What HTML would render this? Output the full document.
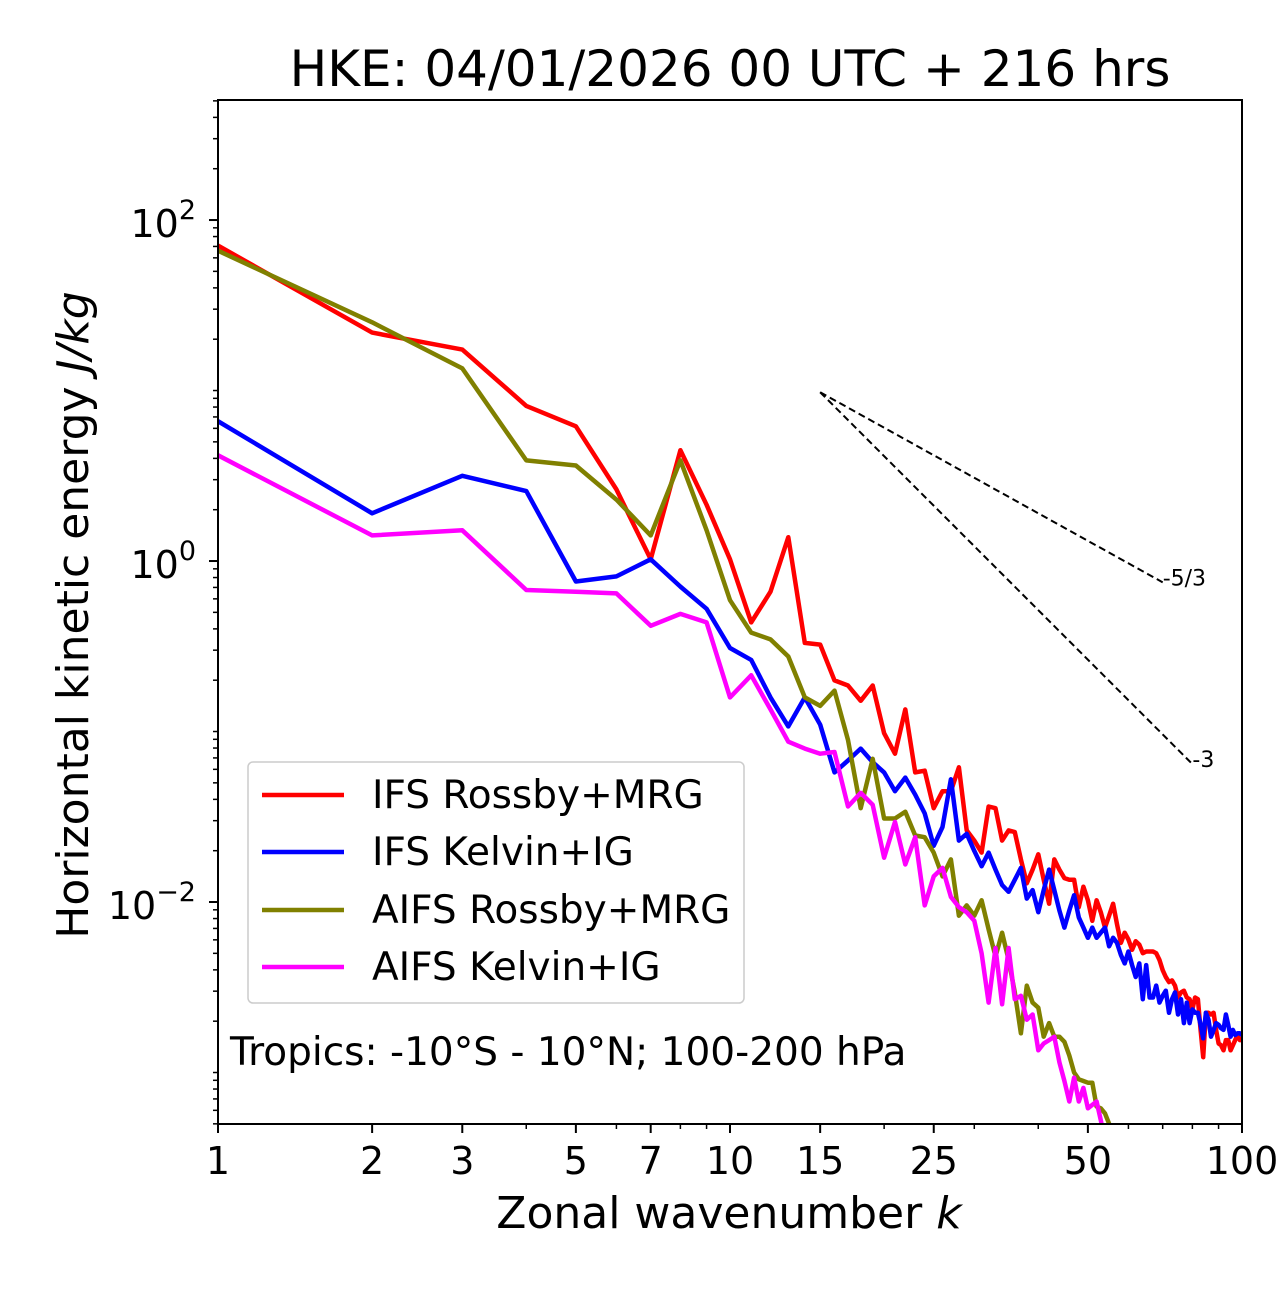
<!DOCTYPE html>
<html><head><meta charset="utf-8"><style>
html,body{margin:0;padding:0;background:#fff;}
svg text{font-family:"DejaVu Sans","Liberation Sans",sans-serif;fill:#000;}
</style></head><body>
<svg id="chart" width="1280" height="1288" viewBox="0 0 1280 1288" xmlns="http://www.w3.org/2000/svg">
<rect width="1280" height="1288" fill="#fff"/>
<text x="730" y="86" font-size="50" text-anchor="middle">HKE: 04/01/2026 00 UTC + 216 hrs</text>
<defs><clipPath id="plotclip"><rect x="218" y="100" width="1024" height="1024"/></clipPath></defs>
<g id="series" clip-path="url(#plotclip)"></g>
<g id="refs"></g>
<g id="axes"></g>
<rect x="218" y="100" width="1024" height="1024" fill="none" stroke="#000" stroke-width="2"/>
<text x="729" y="1228" font-size="44" text-anchor="middle">Zonal wavenumber <tspan font-style="italic">k</tspan></text>
<text transform="translate(88,615) rotate(-90)" font-size="44" text-anchor="middle">Horizontal kinetic energy <tspan font-style="italic">J/kg</tspan></text>
<g>
<rect x="248" y="762" width="496" height="241" rx="5" fill="#fff" fill-opacity="0.8" stroke="#ccc" stroke-width="1.5"/>
<g><line x1="262" y1="795" x2="344" y2="795" stroke="#ff0000" stroke-width="4.5"/><text x="372" y="808" font-size="39">IFS Rossby+MRG</text></g>
<g><line x1="262" y1="852" x2="344" y2="852" stroke="#0000ff" stroke-width="4.5"/><text x="372" y="865" font-size="39">IFS Kelvin+IG</text></g>
<g><line x1="262" y1="910" x2="344" y2="910" stroke="#808000" stroke-width="4.5"/><text x="372" y="923" font-size="39">AIFS Rossby+MRG</text></g>
<g><line x1="262" y1="967" x2="344" y2="967" stroke="#ff00ff" stroke-width="4.5"/><text x="372" y="980" font-size="39">AIFS Kelvin+IG</text></g>
</g>
<text x="230" y="1065" font-size="39">Tropics: -10°S - 10°N; 100-200 hPa</text>
</svg>
<script>
// log10 of HKE (J/kg) for k = 1..N
const ifsRossbyLogE = [1.85,1.34,1.24,0.91,0.79,0.42,0.01,0.65,0.33,0.01,-0.36,-0.18,0.14,-0.48,-0.49,-0.70,-0.73,-0.82,-0.73,-1.01,-1.13,-0.87,-1.24,-1.23,-1.45,-1.35,-1.35,-1.21,-1.58,-1.64,-1.71,-1.44,-1.45,-1.64,-1.58,-1.59,-1.75,-1.89,-1.81,-1.72,-1.87,-2.01,-1.75,-1.81,-1.86,-1.87,-1.87,-2.03,-1.91,-1.99,-2.11,-1.99,-2.06,-2.15,-2.08,-2.01,-2.13,-2.24,-2.18,-2.22,-2.28,-2.23,-2.25,-2.30,-2.29,-2.29,-2.29,-2.30,-2.34,-2.40,-2.44,-2.47,-2.46,-2.49,-2.56,-2.53,-2.52,-2.56,-2.57,-2.63,-2.56,-2.57,-2.75,-2.91,-2.65,-2.65,-2.66,-2.65,-2.75,-2.83,-2.84,-2.87,-2.81,-2.81,-2.87,-2.84,-2.81,-2.78,-2.81,-2.81];
const ifsKelvinLogE = [0.82,0.28,0.50,0.41,-0.12,-0.09,0.01,-0.15,-0.28,-0.51,-0.58,-0.80,-0.97,-0.80,-0.96,-1.24,-1.17,-1.10,-1.18,-1.24,-1.35,-1.27,-1.37,-1.48,-1.67,-1.56,-1.28,-1.64,-1.60,-1.70,-1.79,-1.71,-1.81,-1.90,-1.94,-1.87,-1.80,-1.98,-1.93,-2.06,-1.93,-1.81,-1.93,-2.05,-2.15,-2.05,-1.96,-2.09,-2.15,-2.21,-2.15,-2.21,-2.18,-2.15,-2.26,-2.21,-2.24,-2.31,-2.36,-2.29,-2.37,-2.44,-2.36,-2.57,-2.37,-2.56,-2.56,-2.49,-2.59,-2.55,-2.52,-2.65,-2.57,-2.53,-2.66,-2.57,-2.71,-2.59,-2.71,-2.63,-2.65,-2.65,-2.72,-2.80,-2.65,-2.69,-2.79,-2.75,-2.71,-2.72,-2.74,-2.75,-2.66,-2.72,-2.79,-2.75,-2.78,-2.77,-2.77,-2.78];
const aifsRossbyLogE = [1.82,1.40,1.13,0.59,0.56,0.36,0.15,0.59,0.18,-0.23,-0.42,-0.46,-0.56,-0.80,-0.85,-0.76,-1.05,-1.45,-1.16,-1.51,-1.51,-1.47,-1.61,-1.62,-1.71,-1.85,-1.75,-2.08,-2.02,-2.08,-1.99,-2.16,-2.32,-2.18,-2.34,-2.53,-2.77,-2.49,-2.59,-2.62,-2.79,-2.71,-2.79,-2.79,-2.82,-2.90,-3.00,-3.04,-3.05,-3.06,-3.06,-3.20,-3.21,-3.24,-3.30,-3.40];
const aifsKelvinLogE = [0.62,0.15,0.18,-0.17,-0.18,-0.19,-0.38,-0.31,-0.36,-0.80,-0.67,-0.87,-1.06,-1.10,-1.13,-1.12,-1.44,-1.36,-1.43,-1.74,-1.53,-1.78,-1.62,-2.02,-1.85,-1.80,-1.97,-2.03,-2.06,-2.11,-2.30,-2.59,-2.27,-2.60,-2.27,-2.57,-2.55,-2.69,-2.66,-2.87,-2.83,-2.81,-2.79,-2.94,-3.05,-3.17,-3.03,-3.17,-3.09,-3.21,-3.19,-3.17,-3.28,-3.40];
const xTickLabels = [1,2,3,5,7,10,15,25,50,100];
const yMajorExps = [-2,0,2];
const refStartK = 15, refStartLogE = 0.99, refEndK5_3 = 70, refEndK3 = 80;

const NS = "http://www.w3.org/2000/svg";
const X0 = 218, X1 = 1242, Y0 = 100, Y1 = 1124;
const xMinLog = 0, xMaxLog = 2, yTopLog = 2.704, yBotLog = -3.302;
function xScale(k){ return X0 + (Math.log10(k) - xMinLog) / (xMaxLog - xMinLog) * (X1 - X0); }
function yScale(logE){ return Y0 + (yTopLog - logE) / (yTopLog - yBotLog) * (Y1 - Y0); }
function mk(tag, attrs, parent){ const e = document.createElementNS(NS, tag); for (const a in attrs) e.setAttribute(a, attrs[a]); parent.appendChild(e); return e; }

const seriesG = document.getElementById('series');
const seriesDefs = [[ifsRossbyLogE,'#ff0000','series-ifs-rossby-mrg'],[ifsKelvinLogE,'#0000ff','series-ifs-kelvin-ig'],[aifsRossbyLogE,'#808000','series-aifs-rossby-mrg'],[aifsKelvinLogE,'#ff00ff','series-aifs-kelvin-ig']];
seriesDefs.forEach(function(s){
  const pts = s[0].map(function(v,i){ return xScale(i+1).toFixed(1)+','+yScale(v).toFixed(1); }).join(' ');
  const pl = mk('polyline', {points: pts, fill:'none', stroke:s[1], 'stroke-width':4.5, 'stroke-linejoin':'round'}, seriesG);
  
  
});

const refsG = document.getElementById('refs');
[[-5/3, refEndK5_3, '-5/3', 'slope-line-5-3'], [-3, refEndK3, '-3', 'slope-line-3']].forEach(function(r){
  const endLog = refStartLogE + r[0] * (Math.log10(r[1]) - Math.log10(refStartK));
  const ln = mk('line', {x1:xScale(refStartK), y1:yScale(refStartLogE), x2:xScale(r[1]), y2:yScale(endLog), stroke:'#000', 'stroke-width':2, 'stroke-dasharray':'7,4'}, refsG);
  
  
  const t = mk('text', {x:xScale(r[1]), y:yScale(endLog)+3, 'font-size':22}, refsG);
  t.textContent = r[2];
  
  
});

const axG = document.getElementById('axes');
for (let d = 0; d < 2; d++) for (let m = 1; m <= 9; m++) {
  const k = m * Math.pow(10, d);
  if (xTickLabels.indexOf(k) >= 0) continue;
  const tk = mk('line', {x1:xScale(k), x2:xScale(k), y1:Y1, y2:Y1+5, stroke:'#000', 'stroke-width':1.5}, axG);
  
  
}
xTickLabels.forEach(function(k){
  const tk = mk('line', {x1:xScale(k), x2:xScale(k), y1:Y1, y2:Y1+9, stroke:'#000', 'stroke-width':2}, axG);
  
  
  const t = mk('text', {x:xScale(k), y:Y1+50, 'font-size':38, 'text-anchor':'middle'}, axG);
  t.textContent = String(k);
  
  
});
for (let d = -4; d <= 3; d++) for (let m = 1; m <= 9; m++) {
  const lv = d + Math.log10(m);
  if (lv > yTopLog || lv < yBotLog) continue;
  if (m === 1 && yMajorExps.indexOf(d) >= 0) continue;
  const tk = mk('line', {x1:X0-5, x2:X0, y1:yScale(lv), y2:yScale(lv), stroke:'#000', 'stroke-width':1.5}, axG);
  
  
}
yMajorExps.forEach(function(e){
  const tk = mk('line', {x1:X0-9, x2:X0, y1:yScale(e), y2:yScale(e), stroke:'#000', 'stroke-width':2}, axG);
  
  
  const t = mk('text', {x:X0-22, y:yScale(e)+17, 'font-size':38, 'text-anchor':'end'}, axG);
  t.textContent = '10';
  const sup = mk('tspan', {dy:-18, 'font-size':27}, t);
  sup.textContent = (e < 0 ? '\u2212' : '') + Math.abs(e);
  
  
});
</script>
</body></html>
